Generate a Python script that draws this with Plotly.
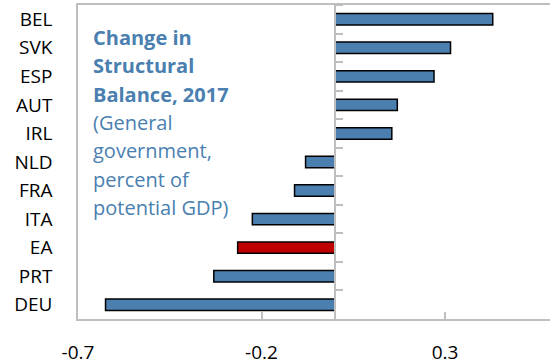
import plotly.graph_objects as go

# Change in structural balance, 2017 (percent of potential GDP)
countries = ["BEL", "SVK", "ESP", "AUT", "IRL", "NLD", "FRA", "ITA", "EA", "PRT", "DEU"]
changes = [0.43, 0.315, 0.27, 0.17, 0.155, -0.08, -0.11, -0.225, -0.265, -0.33, -0.625]

title_lines = ["<b>Change in</b>", "<b>Structural</b>", "<b>Balance, 2017</b>",
               "(General", "government,", "percent of", "potential GDP)"]

BLUE = "#4a7fb0"
RED = "#c00000"
GRID = "#bfbfbf"
FONT = "Open Sans"

colors = [RED if c == "EA" else BLUE for c in countries]

x_range = [-0.7, 0.586]
zero_frac = (0 - x_range[0]) / (x_range[1] - x_range[0])

fig = go.Figure()
fig.add_trace(go.Bar(
    x=changes, y=countries, orientation="h",
    marker=dict(color=colors, line=dict(color="black", width=1.5)),
    width=0.4, showlegend=False, hoverinfo="x+y",
))
# invisible trace carrying the axis drawn through zero
fig.add_trace(go.Scatter(
    x=[0] * len(countries), y=countries, yaxis="y2", mode="none",
    showlegend=False, hoverinfo="skip",
))

plot_h = 364 - 5 - 45
line_step = 28.3 / plot_h
annotations = [
    dict(x=0.028, y=0.896 - i * line_step, xref="paper", yref="paper",
         xanchor="left", yanchor="middle", align="left", showarrow=False,
         text=t, font=dict(family=FONT, size=20, color=BLUE))
    for i, t in enumerate(title_lines)
]

fig.update_layout(
    width=550, height=364,
    margin=dict(l=78, r=0, t=5, b=45),
    plot_bgcolor="white", paper_bgcolor="white",
    font=dict(family=FONT, size=19, color="black"),
    xaxis=dict(
        range=x_range, tickvals=[-0.7, -0.2, 0.3], ticktext=["-0.7", "-0.2", "0.3"],
        showgrid=False, zeroline=False, showline=True, mirror=True,
        linecolor=GRID, linewidth=1.5,
        ticks="inside", ticklen=7, tickcolor=GRID, tickwidth=1.5,
        tickfont=dict(size=19), ticklabelstandoff=15,
    ),
    yaxis=dict(
        type="category", categoryorder="array", categoryarray=countries,
        range=[10.5, -0.5], showgrid=False, zeroline=False,
        showline=True, linecolor=GRID, linewidth=1.5, ticks="",
        tickfont=dict(size=19), ticklabelstandoff=20,
    ),
    yaxis2=dict(
        type="category", categoryorder="array", categoryarray=countries,
        range=[10.5, -0.5], overlaying="y", anchor="free", position=zero_frac,
        side="right", showgrid=False, zeroline=False,
        showline=True, linecolor=GRID, linewidth=1.5,
        ticks="outside", tickson="boundaries", ticklen=7,
        tickcolor=GRID, tickwidth=1.5, showticklabels=False,
    ),
    annotations=annotations,
)

fig.write_html("out.html")
